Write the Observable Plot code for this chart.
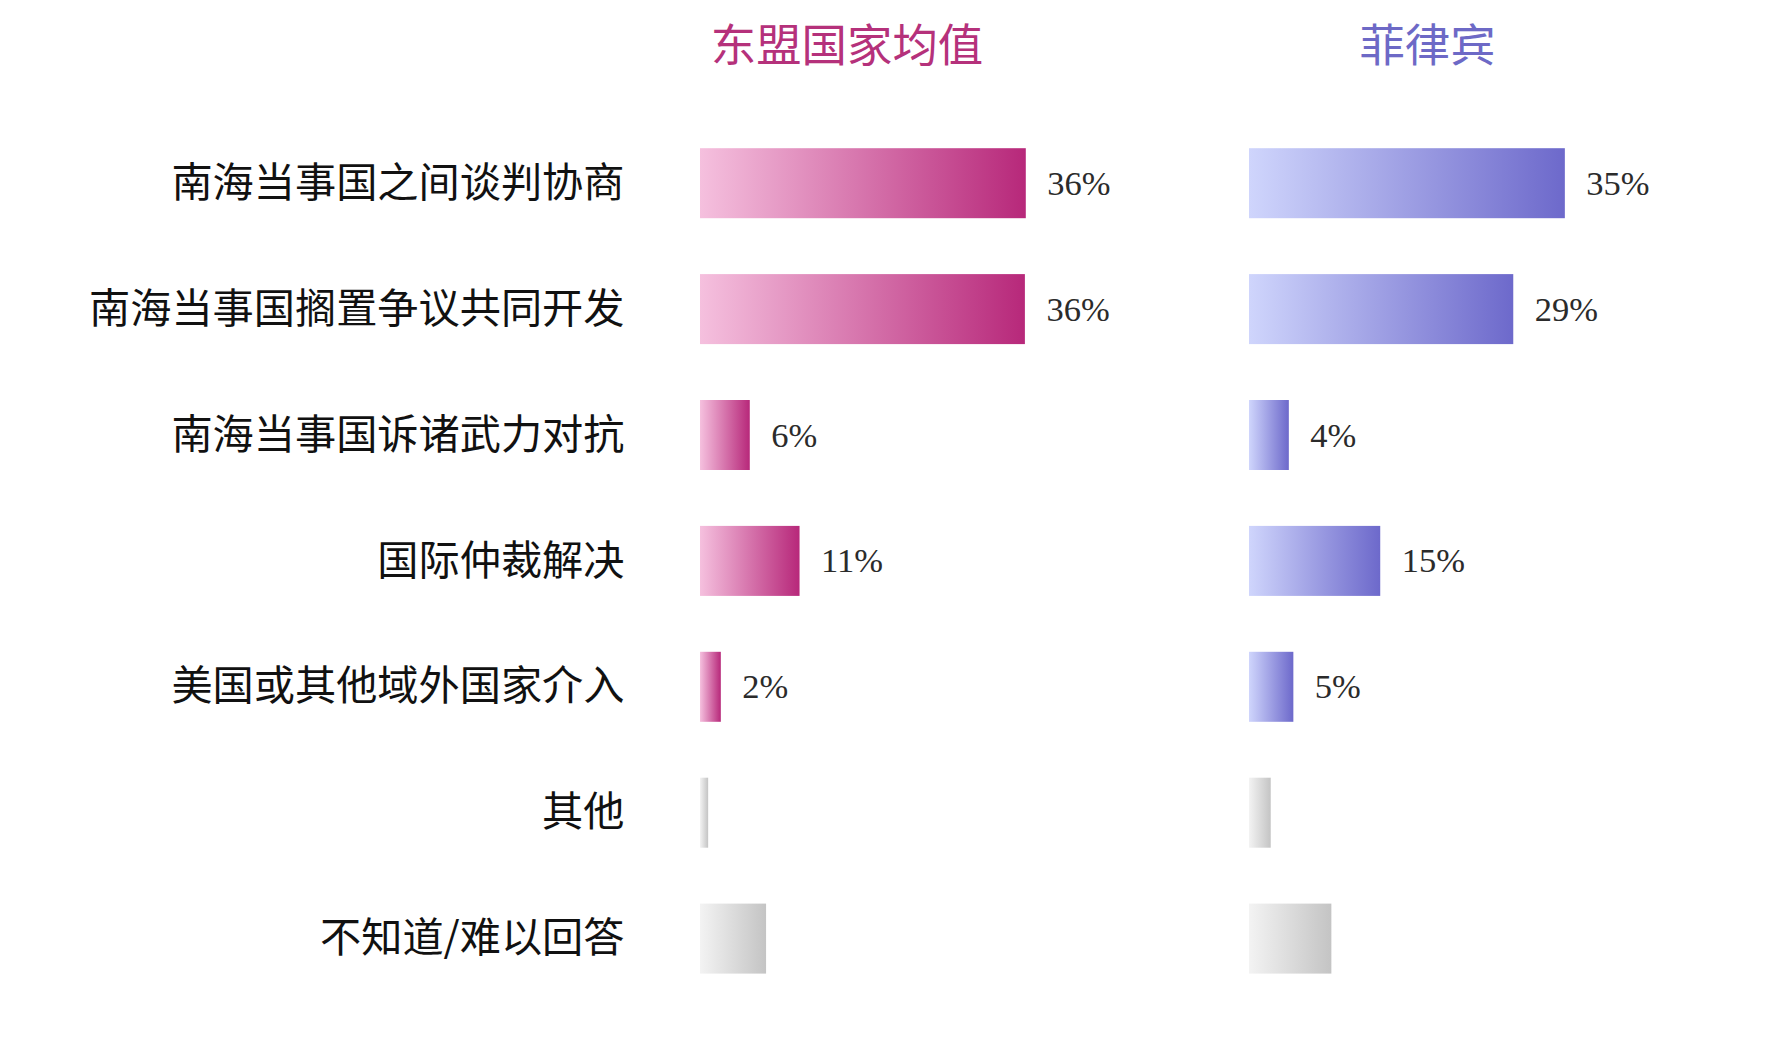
<!DOCTYPE html>
<html>
<head>
<meta charset="utf-8">
<script src="https://cdn.jsdelivr.net/npm/d3@7"></script>
<script src="https://cdn.jsdelivr.net/npm/@observablehq/plot@0.6"></script>
<style>
  html, body { margin: 0; padding: 0; background: #fff; overflow: hidden; }
</style>
</head>
<body>
<div id="chart"></div>
<script>
// ---- data ----
const regions = ["东盟国家均值", "菲律宾"];
const categories = [
  "南海当事国之间谈判协商",
  "南海当事国搁置争议共同开发",
  "南海当事国诉诸武力对抗",
  "国际仲裁解决",
  "美国或其他域外国家介入",
  "其他",
  "不知道/难以回答"
];
const aseanValues = [36.0, 35.9, 5.5, 11.0, 2.3, 0.9, 7.3];
const philippinesValues = [34.9, 29.2, 4.4, 14.5, 4.9, 2.4, 9.1];
const unlabeledCategories = ["其他", "不知道/难以回答"];

// ---- table ----
const rows = [];
categories.forEach((c, i) => rows.push({region: regions[0], category: c, value: aseanValues[i]}));
categories.forEach((c, i) => rows.push({region: regions[1], category: c, value: philippinesValues[i]}));

const gradFor = d => unlabeledCategories.includes(d.category)
  ? "url(#g-gray)"
  : (d.region === regions[0] ? "url(#g-asean)" : "url(#g-ph)");

const cjk = "'Noto Sans CJK SC', 'Noto Sans', sans-serif";

const svg = Plot.plot({
  width: 1768,
  height: 1056,
  marginLeft: 700,
  marginRight: 66.5,
  marginTop: 92.3,
  marginBottom: 26.5,
  style: {background: "white", fontFamily: cjk},
  x: {domain: [0, 50], axis: null},
  y: {domain: categories, axis: null, padding: 0.444, round: false},
  fx: {domain: regions, axis: null, paddingInner: 0.1758, paddingOuter: 0, round: false},
  color: {type: "identity"},
  marks: [
    Plot.barX(rows, {x: "value", y: "category", fx: "region", fill: gradFor}),
    Plot.text(rows.filter(d => !unlabeledCategories.includes(d.category)), {
      x: "value", y: "category", fx: "region",
      text: d => Math.round(d.value) + "%",
      dx: 21, textAnchor: "start", fontSize: 34.5,
      fontFamily: "'Liberation Serif', serif", fill: "#2b2b2b"
    }),
    Plot.text(rows.filter(d => d.region === regions[0]), {
      y: "category", fx: "region", text: "category",
      frameAnchor: "left", dx: -76, textAnchor: "end",
      fontSize: 41.2, fill: "#111", fontFamily: cjk
    }),
    Plot.text([regions[0]], {
      fx: d => d, text: d => d, frameAnchor: "top-left",
      dx: 146.5, dy: -45, textAnchor: "middle", lineAnchor: "middle",
      fontSize: 45.4, fill: "#b5317b", fontFamily: cjk
    }),
    Plot.text([regions[1]], {
      fx: d => d, text: d => d, frameAnchor: "top-left",
      dx: 178, dy: -45, textAnchor: "middle", lineAnchor: "middle",
      fontSize: 45.4, fill: "#6d69c6", fontFamily: cjk
    })
  ]
});

// gradients
const defs = d3.select(svg).insert("defs", ":first-child");
function grad(id, from, to) {
  const g = defs.append("linearGradient").attr("id", id)
    .attr("x1", "0").attr("y1", "0").attr("x2", "1").attr("y2", "0");
  g.append("stop").attr("offset", "0%").attr("stop-color", from);
  g.append("stop").attr("offset", "100%").attr("stop-color", to);
}
grad("g-asean", "#f5c0de", "#b7287a");
grad("g-ph", "#cfd5fc", "#6d69cb");
grad("g-gray", "#f3f3f3", "#c4c4c4");

document.getElementById("chart").appendChild(svg);
</script>
</body>
</html>
